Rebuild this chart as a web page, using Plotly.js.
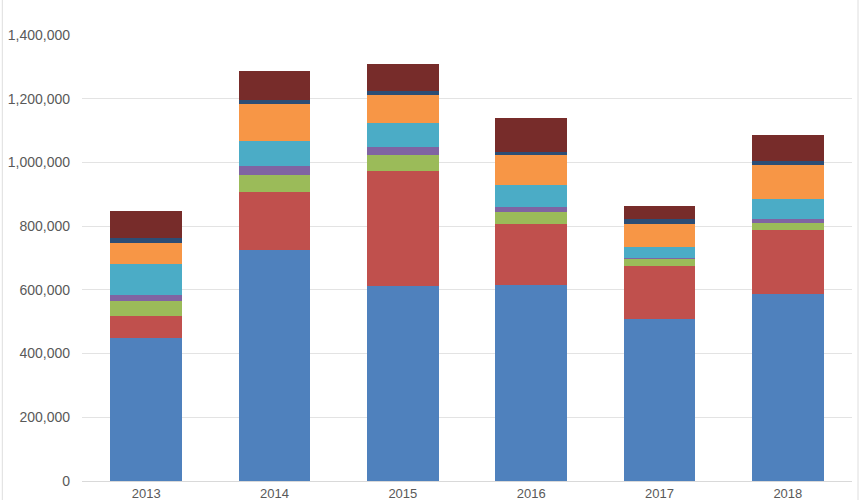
<!DOCTYPE html>
<html>
<head>
<meta charset="utf-8">
<script src="https://cdn.plot.ly/plotly-3.0.1.min.js"></script>
<style>
  html, body { margin: 0; padding: 0; background: #ffffff; }
  #chart { width: 860px; height: 500px; }
</style>
</head>
<body>
<div id="chart"></div>
<script>
// Years on the category axis
const years = ['2013', '2014', '2015', '2016', '2017', '2018'];

// Stacked series, bottom to top
const series1 = [450000, 726000, 611000, 614000, 509000, 586000];
const series2 = [67000, 181000, 362000, 193000, 165000, 203000];
const series3 = [48000, 53000, 50000, 38000, 24000, 21000];
const series4 = [18000, 28000, 26000, 15000, 3000, 12000];
const series5 = [99000, 78000, 75000, 68000, 34000, 62000];
const series6 = [66000, 118000, 89000, 95000, 73000, 108000];
const series7 = [14000, 11000, 10000, 10000, 16000, 13000];
const series8 = [87000, 93000, 87000, 107000, 40000, 82000];

// Y-axis tick values and labels
const yTickVals = [0, 200000, 400000, 600000, 800000, 1000000, 1200000, 1400000];
const yTickText = ['0', '200,000', '400,000', '600,000', '800,000', '1,000,000', '1,200,000', '1,400,000'];

const seriesList = [
  { name: 'Series 1', values: series1, color: '#4F81BD' },
  { name: 'Series 2', values: series2, color: '#C0504D' },
  { name: 'Series 3', values: series3, color: '#9BBB59' },
  { name: 'Series 4', values: series4, color: '#8064A2' },
  { name: 'Series 5', values: series5, color: '#4BACC6' },
  { name: 'Series 6', values: series6, color: '#F79646' },
  { name: 'Series 7', values: series7, color: '#2C4D75' },
  { name: 'Series 8', values: series8, color: '#772C2A' }
];

const traces = seriesList.map(s => ({
  type: 'bar',
  name: s.name,
  x: years,
  y: s.values,
  marker: { color: s.color, line: { width: 0 } },
  hoverinfo: 'x+y+name'
}));

const layout = {
  width: 860,
  height: 500,
  barmode: 'stack',
  bargap: 0.44,
  showlegend: false,
  paper_bgcolor: '#ffffff',
  plot_bgcolor: '#ffffff',
  margin: { l: 82, r: 8, t: 35, b: 19, pad: 0 },
  font: { family: 'Liberation Sans, Arial, sans-serif', size: 14, color: '#595959' },
  xaxis: {
    type: 'category',
    showgrid: false,
    showline: true,
    linecolor: '#d9d9d9',
    linewidth: 1,
    ticks: '',
    ticklabelstandoff: 0,
    tickfont: { size: 13, color: '#595959' }
  },
  yaxis: {
    range: [0, 1400000],
    tickvals: yTickVals,
    ticktext: yTickText,
    showgrid: true,
    gridcolor: '#e3e3e3',
    gridwidth: 1,
    zeroline: false,
    showline: false,
    ticks: '',
    ticklabelstandoff: 11,
    tickfont: { size: 14, color: '#595959' }
  },
  shapes: [
    { type: 'line', xref: 'paper', yref: 'paper', x0: -0.1035, x1: -0.1035, y0: -0.05, y1: 1.1,
      line: { color: '#dedede', width: 1 } },
    { type: 'line', xref: 'paper', yref: 'paper', x0: 1.0078, x1: 1.0078, y0: -0.05, y1: 1.1,
      line: { color: '#dedede', width: 1 } }
  ]
};

Plotly.newPlot('chart', traces, layout, { displayModeBar: false, staticPlot: true });
</script>
</body>
</html>
